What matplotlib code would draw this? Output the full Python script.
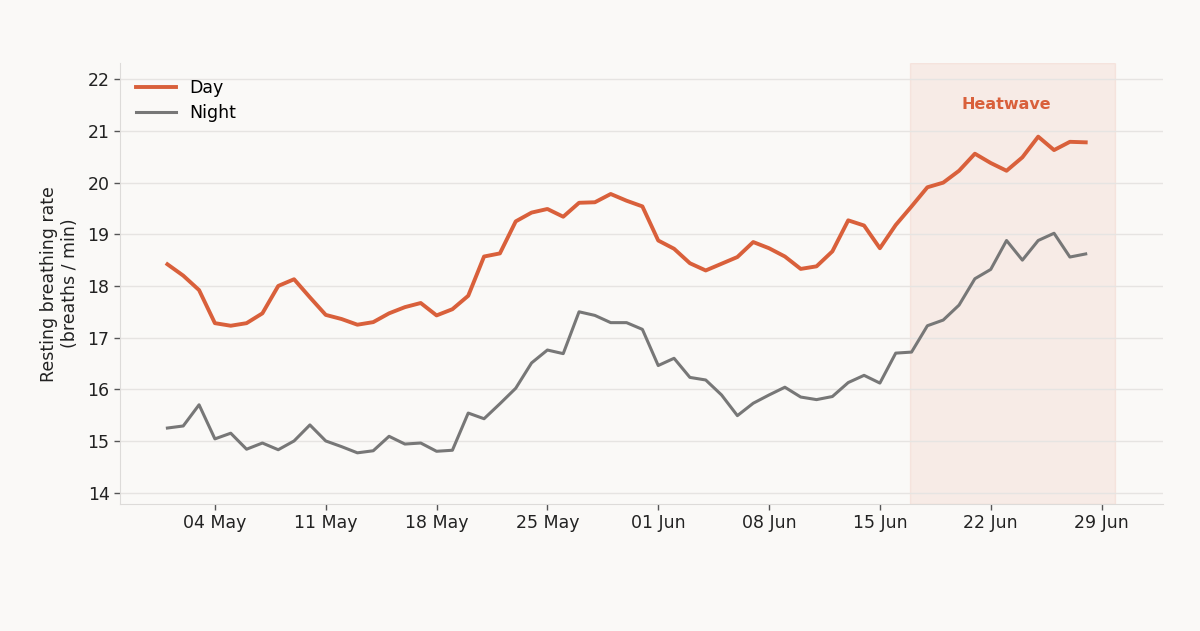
import numpy as np
import pandas as pd
import matplotlib
matplotlib.use("Agg")
import matplotlib.pyplot as plt
import matplotlib.dates as mdates

dates = pd.date_range("2024-05-01", "2024-06-28", freq="D")

day = [18.42, 18.20, 17.92, 17.28, 17.23, 17.28, 17.47, 18.00, 18.13, 17.78,
       17.44, 17.36, 17.25, 17.30, 17.47, 17.59, 17.67, 17.43, 17.55, 17.81,
       18.57, 18.63, 19.25, 19.42, 19.49, 19.34, 19.61, 19.62, 19.78, 19.65,
       19.54, 18.88, 18.72, 18.44, 18.30, 18.43, 18.56, 18.85, 18.73, 18.57,
       18.33, 18.38, 18.67, 19.27, 19.17, 18.73, 19.18, 19.54, 19.91, 20.00,
       20.23, 20.56, 20.38, 20.23, 20.49, 20.89, 20.63, 20.79, 20.78]

night = [15.25, 15.29, 15.70, 15.04, 15.15, 14.84, 14.96, 14.83, 15.00, 15.31,
         15.00, 14.89, 14.77, 14.81, 15.09, 14.94, 14.96, 14.80, 14.82, 15.54,
         15.43, 15.72, 16.02, 16.51, 16.76, 16.69, 17.50, 17.43, 17.29, 17.29,
         17.16, 16.46, 16.60, 16.23, 16.18, 15.89, 15.49, 15.73, 15.89, 16.04,
         15.85, 15.80, 15.86, 16.13, 16.27, 16.12, 16.70, 16.72, 17.23, 17.34,
         17.63, 18.14, 18.32, 18.88, 18.50, 18.88, 19.02, 18.56, 18.62]

heat_start = pd.Timestamp("2024-06-16 21:00")
heat_end = pd.Timestamp("2024-06-29 21:00")
heat_label_date = pd.Timestamp("2024-06-23")

DAY_C = "#d9603b"
NIGHT_C = "#777777"
BG = "#faf9f7"

plt.rcParams["font.family"] = ["DejaVu Sans"]

fig = plt.figure(figsize=(12, 6.31), dpi=100, facecolor=BG)
ax = fig.add_axes([0.1, 0.2013, 0.869, 0.6984])
ax.set_facecolor(BG)

ax.axvspan(heat_start, heat_end, color=DAY_C, alpha=0.09, zorder=0)
ax.plot(dates, day, color=DAY_C, lw=2.8, label="Day", zorder=3)
ax.plot(dates, night, color=NIGHT_C, lw=2.2, label="Night", zorder=3)

ax.text(heat_label_date, 21.52, "Heatwave", color=DAY_C, fontsize=11.5,
        fontweight="bold", ha="center", va="center")

ax.set_ylim(13.78, 22.31)
ax.set_yticks(range(14, 23))
ax.xaxis.set_major_locator(mdates.WeekdayLocator(byweekday=mdates.SA))
ax.xaxis.set_major_formatter(mdates.DateFormatter("%d %b"))

ax.grid(axis="y", color="#e6e4e2", lw=1)
ax.set_axisbelow(True)
for s in ["top", "right"]:
    ax.spines[s].set_visible(False)
for s in ["left", "bottom"]:
    ax.spines[s].set_color("#dddbd9")
ax.tick_params(axis="both", labelsize=12.5, colors="#222222", length=4,
               width=1)
ax.tick_params(axis="both", color="#555555")

ax.set_ylabel("Resting breathing rate\n(breaths / min)", fontsize=12.5,
              color="#222222", labelpad=6)

leg = ax.legend(loc="upper left", frameon=False, fontsize=12.5,
                handlelength=2.3, labelspacing=0.4,
                bbox_to_anchor=(0.0, 1.0))

fig.savefig("out.png", dpi=100, facecolor=BG)
